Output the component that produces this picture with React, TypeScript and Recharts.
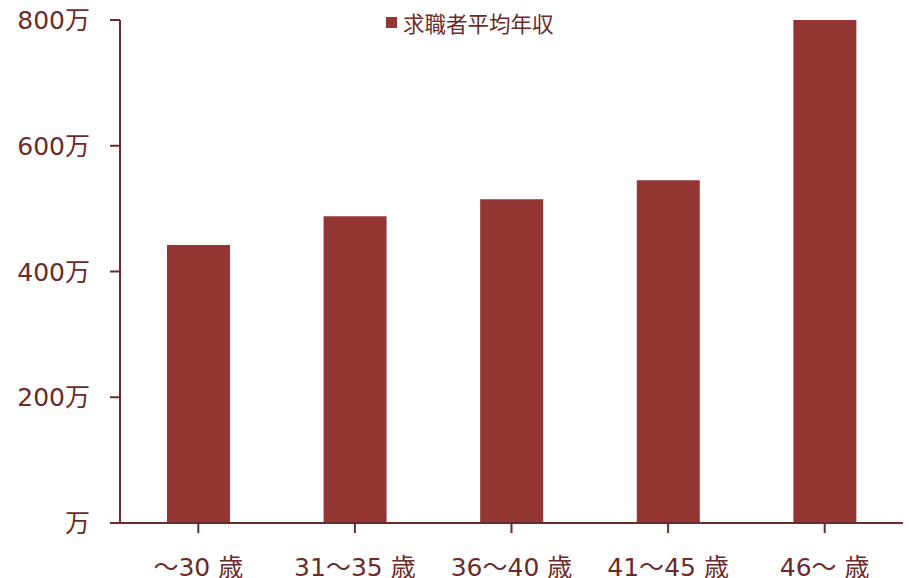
import React from "react";
import { BarChart, Bar, XAxis, YAxis } from "recharts";

const categories = ["～30 歳", "31～35 歳", "36～40 歳", "41～45 歳", "46～ 歳"];
const salaries = [442, 488, 515, 545, 800];
const yTicks = [0, 200, 400, 600, 800];
const seriesName = "求職者平均年収";

const data = categories.map((c, i) => ({ name: c, value: salaries[i] }));

const TEXT = "#6b2b2b";
const AXIS = "#6b2b2b";
const BAR = "#943634";
const FONT = "Verdana, 'DejaVu Sans', 'Noto Sans CJK JP', sans-serif";
const CJK = "'Noto Sans CJK JP', sans-serif";

const renderParts = (s: string) =>
  s.split(/(～)/).map((p, i) =>
    p === "～" ? (
      <tspan key={i} fontFamily={CJK}>
        {p}
      </tspan>
    ) : (
      <tspan key={i}>{p}</tspan>
    )
  );

const YTick = (props: any) => {
  const { x, y, payload } = props;
  const label = payload.value === 0 ? "万" : `${payload.value}万`;
  return (
    <text x={x - 18} y={y + 9} textAnchor="end" fill={TEXT} fontSize={25} fontFamily={FONT}>
      {label}
    </text>
  );
};

const XTick = (props: any) => {
  const { x, y, payload } = props;
  return (
    <text x={x} y={y + 41} textAnchor="middle" fill={TEXT} fontSize={25} fontFamily={FONT}>
      {renderParts(payload.value)}
    </text>
  );
};

export default function App() {
  return (
    <div style={{ position: "absolute", left: 0, top: 0, width: 909, height: 578 }}>
      <BarChart
        width={909}
        height={578}
        data={data}
        margin={{ top: 20, right: 6, bottom: 0, left: 0 }}
        barCategoryGap="30%"
      >
        <XAxis
          dataKey="name"
          height={55}
          tick={<XTick />}
          tickLine={{ stroke: AXIS, strokeWidth: 2 }}
          tickSize={10}
          axisLine={{ stroke: AXIS, strokeWidth: 2 }}
          interval={0}
        />
        <YAxis
          width={120}
          domain={[0, 800]}
          ticks={yTicks}
          tick={<YTick />}
          tickLine={{ stroke: AXIS, strokeWidth: 2 }}
          tickSize={10}
          axisLine={{ stroke: AXIS, strokeWidth: 2 }}
          interval={0}
        />
        <Bar dataKey="value" name={seriesName} fill={BAR} isAnimationActive={false} />
      </BarChart>
      <div
        style={{
          position: "absolute",
          left: 386,
          top: 7,
          display: "flex",
          alignItems: "center",
          fontFamily: FONT,
          fontSize: 21.5,
          color: TEXT,
          whiteSpace: "nowrap",
        }}
      >
        <span style={{ display: "inline-block", width: 11, height: 11, background: BAR, marginRight: 6 }} />
        <span>{seriesName}</span>
      </div>
    </div>
  );
}
